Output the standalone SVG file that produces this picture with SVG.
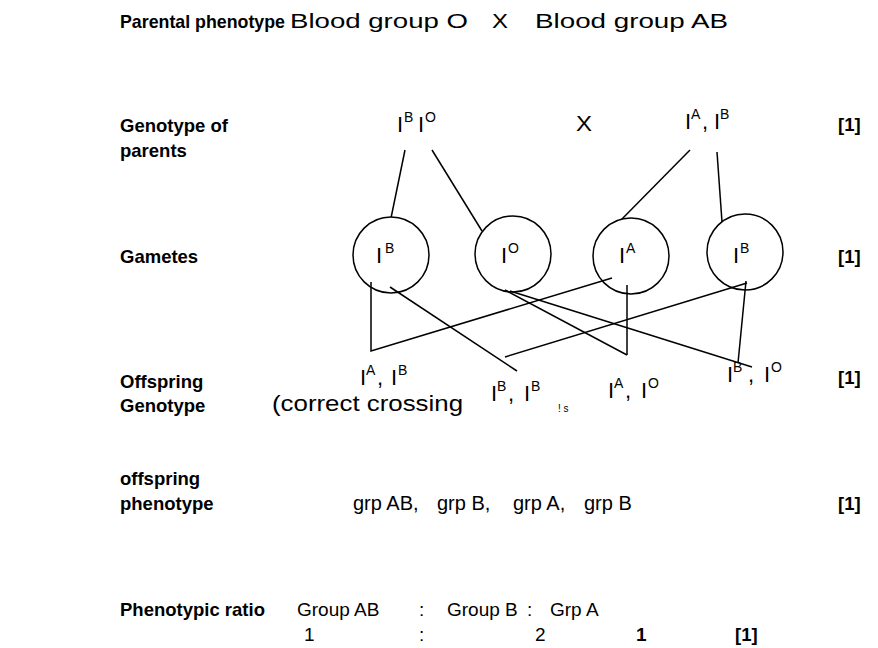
<svg xmlns="http://www.w3.org/2000/svg" width="878" height="648" viewBox="0 0 878 648">
<style>
text{font-family:"Liberation Sans",Arial,sans-serif;font-size:22px;fill:#000}
.b{font-weight:bold;font-size:18.5px}
.r{font-size:19px}
.sup{font-size:14px}
.ln{stroke:#000;stroke-width:1.5;fill:none}
.c{stroke:#000;stroke-width:1.5;fill:#fff}
</style>
<rect width="878" height="648" fill="#fff"/>
<g id="labels">
<text class="b" x="120" y="28" style="font-size:17.8px">Parental phenotype</text>
<text class="b" x="120" y="132">Genotype of</text>
<text class="b" x="120" y="157">parents</text>
<text class="b" x="120" y="263">Gametes</text>
<text class="b" x="120" y="388">Offspring</text>
<text class="b" x="120" y="412">Genotype</text>
<text class="b" x="120" y="485">offspring</text>
<text class="b" x="120" y="510">phenotype</text>
<text class="b" x="120" y="616">Phenotypic ratio</text>
</g>
<g id="parental-phenotype">
<text x="290" y="28" style="font-size:21px" textLength="178" lengthAdjust="spacingAndGlyphs">Blood group O</text>
<text x="492" y="28" style="font-size:21px" textLength="16" lengthAdjust="spacingAndGlyphs">X</text>
<text x="535" y="28" style="font-size:21px" textLength="193" lengthAdjust="spacingAndGlyphs">Blood group AB</text>
</g>
<g id="parent1-genotype">
<text y="132"><tspan x="397">I</tspan><tspan class="sup" x="404" dy="-10">B</tspan><tspan x="418" dy="10">I</tspan><tspan class="sup" x="425" dy="-10">O</tspan></text>
</g>
<text id="cross-x" x="576" y="131" textLength="16" lengthAdjust="spacingAndGlyphs">X</text>
<g id="parent2-genotype">
<text y="129"><tspan x="685">I</tspan><tspan class="sup" x="691" dy="-10">A</tspan><tspan x="702" dy="10">,</tspan><tspan x="714">I</tspan><tspan class="sup" x="720" dy="-10">B</tspan></text>
</g>
<g id="marks">
<text class="b" x="838" y="131">[1]</text>
<text class="b" x="838" y="263">[1]</text>
<text class="b" x="838" y="384">[1]</text>
<text class="b" x="838" y="510">[1]</text>
<text class="b" x="735" y="641">[1]</text>
</g>
<g id="connectors">
<line class="ln" x1="405" y1="150" x2="391" y2="218"/>
<line class="ln" x1="432" y1="150" x2="482" y2="231"/>
<line class="ln" x1="690" y1="150" x2="620" y2="221"/>
<line class="ln" x1="717" y1="152" x2="722" y2="222"/>
</g>
<g id="gamete-IB-1">
<circle class="c" cx="391" cy="255" r="38"/>
<text y="263"><tspan x="376">I</tspan><tspan class="sup" x="385" dy="-10">B</tspan></text>
</g>
<g id="gamete-IO">
<circle class="c" cx="513" cy="254" r="38"/>
<text y="263"><tspan x="501">I</tspan><tspan class="sup" x="508" dy="-10">O</tspan></text>
</g>
<g id="gamete-IA">
<circle class="c" cx="631" cy="256" r="38"/>
<text y="263"><tspan x="619">I</tspan><tspan class="sup" x="626" dy="-10">A</tspan></text>
</g>
<g id="gamete-IB-2">
<circle class="c" cx="745" cy="252" r="38"/>
<text y="263"><tspan x="733">I</tspan><tspan class="sup" x="740" dy="-10">B</tspan></text>
</g>
<g id="connectors-cross">
<polyline class="ln" points="371,282 371,351 612,278"/>
<line class="ln" x1="390" y1="287" x2="517" y2="371"/>
<line class="ln" x1="747" y1="283" x2="505" y2="357"/>
<line class="ln" x1="505" y1="290" x2="627" y2="355"/>
<line class="ln" x1="627" y1="285" x2="627" y2="355"/>
<line class="ln" x1="510" y1="291" x2="752" y2="367"/>
<line class="ln" x1="746" y1="281" x2="738" y2="363"/>
</g>
<g id="offspring-1">
<text y="385"><tspan x="360">I</tspan><tspan class="sup" x="366" dy="-10">A</tspan><tspan x="377" dy="10">,</tspan><tspan x="391">I</tspan><tspan class="sup" x="398" dy="-10">B</tspan></text>
</g>
<g id="offspring-2">
<text y="401"><tspan x="491">I</tspan><tspan class="sup" x="497" dy="-10">B</tspan><tspan x="508" dy="10">,</tspan><tspan x="524">I</tspan><tspan class="sup" x="531" dy="-10">B</tspan></text>
</g>
<text x="558" y="412" style="font-size:10px">! s</text>
<g id="offspring-3">
<text y="398"><tspan x="608">I</tspan><tspan class="sup" x="614" dy="-10">A</tspan><tspan x="625" dy="10">,</tspan><tspan x="641">I</tspan><tspan class="sup" x="648" dy="-10">O</tspan></text>
</g>
<g id="offspring-4">
<text y="382"><tspan x="727">I</tspan><tspan class="sup" x="733" dy="-10">B</tspan><tspan x="748" dy="10">,</tspan><tspan x="764">I</tspan><tspan class="sup" x="771" dy="-10">O</tspan></text>
</g>
<text id="note" x="272" y="411" textLength="191" lengthAdjust="spacingAndGlyphs">(correct crossing</text>
<g id="offspring-phenotype">
<text class="r" x="353" y="510" style="font-size:20px">grp AB,</text>
<text class="r" x="437" y="510" style="font-size:20px">grp B,</text>
<text class="r" x="513" y="510" style="font-size:20px">grp A,</text>
<text class="r" x="584" y="510" style="font-size:20px">grp B</text>
</g>
<g id="ratio">
<text class="r" x="297" y="616">Group AB</text>
<text class="r" x="419" y="616">:</text>
<text class="r" x="447" y="616">Group B</text>
<text class="r" x="527" y="616">:</text>
<text class="r" x="550" y="616">Grp A</text>
<text class="r" x="304" y="641">1</text>
<text class="r" x="419" y="641">:</text>
<text class="r" x="535" y="641">2</text>
<text class="r" x="636" y="641" style="font-weight:bold">1</text>
</g>
</svg>
